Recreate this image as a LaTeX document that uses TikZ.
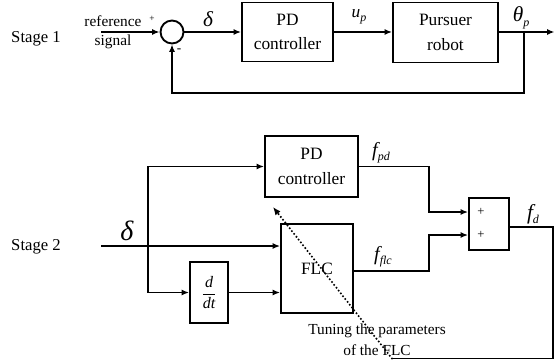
\documentclass[tikz,border=0pt]{standalone}
\usepackage{fontspec}
\setmainfont{Liberation Serif}
\usetikzlibrary{arrows.meta}
\newcommand{\lowsub}[1]{\raisebox{-0.45ex}{\fontsize{9}{10}\selectfont\itshape #1}}
\begin{document}
\begin{tikzpicture}[x=0.75pt,y=-0.75pt,
  blk/.style={draw,line width=1.4pt,inner sep=0pt,align=center,font=\fontsize{13}{18.5}\selectfont},
  wire/.style={line width=1.4pt},
  arr/.style={wire,-{Latex[length=5.5pt,width=4.5pt]}},
  thinwire/.style={line width=0.9pt},
  dots/.style={line width=1.7pt,line cap=round,dash pattern=on 0pt off 2.7pt,-{Latex[length=6pt,width=5pt]}},
  lbl/.style={font=\fontsize{12.5}{14}\selectfont,inner sep=0pt},
  small/.style={font=\fontsize{11.5}{15.75}\selectfont,inner sep=0pt,align=center},
  tiny/.style={font=\fontsize{7}{8}\selectfont,inner sep=0pt},
  plusmark/.style={font=\fontsize{9.5}{10}\selectfont,inner sep=0pt},
  sym/.style={inner sep=0pt,font=\fontsize{15}{16}\selectfont\itshape},
  ]
\useasboundingbox (0,0) rectangle (555,360);
% ---------------- Stage 1
\node[lbl] (st1) at (36,39) {Stage 1};
\node[small] (ref) at (113,21) {reference};
\node[small] (sig) at (113,42) {signal};
\node[tiny] (plus1) at (152,19) {+};
\node[circle,draw,line width=1.4pt,minimum size=17.25pt,inner sep=0pt] (sum1) at (172,32) {};
\node[tiny,font=\fontsize{10}{11}\selectfont] (minus1) at (179,51) {-};
\node[blk,minimum width=68.25pt,minimum height=44.25pt] (pd1) at (287.5,32) {PD\\controller};
\node[blk,minimum width=78.75pt,minimum height=45pt] (rob) at (445.5,32.5) {Pursuer\\robot};
\node[sym,font=\fontsize{16}{17}\selectfont\itshape] (d1) at (208,19) {δ};
\node[sym,font=\fontsize{13}{14}\selectfont\itshape] (up) at (359,17) {u\lowsub{p}};
\node[sym,font=\fontsize{16}{17}\selectfont\itshape] (thp) at (521,18) {θ\lowsub{p}};
\coordinate (in1) at (101,32);
\coordinate (out1) at (554.5,32);
\coordinate (br1) at (524,32);
\coordinate (fb1) at (524,93);
\draw[arr] (in1) -- (sum1.west);
\draw[arr] (sum1.east) -- (pd1.west);
\draw[arr] (pd1.east) -- (pd1.east -| rob.west);
\draw[arr] (rob.east |- out1) -- (out1);
\draw[arr] (br1) -- (fb1) -| (sum1.south);
% ---------------- Stage 2
\node[lbl] (st2) at (36,247) {Stage 2};
\node[sym,font=\fontsize{21}{22}\selectfont\itshape] (d2) at (127,231) {δ};
\node[blk,minimum width=69.75pt,minimum height=45.75pt] (pd2) at (311.5,166.5) {PD\\controller};
\node[blk,minimum width=54pt,minimum height=66.75pt] (flc) at (317,268.5) {FLC};
\node[blk,minimum width=28.5pt,minimum height=45.75pt,font=\fontsize{12}{14}\selectfont] (ddt) at (209,292.5) {$\displaystyle\frac{\textit{d}}{\textit{dt}}$};
\node[draw,line width=1.4pt,minimum width=30pt,minimum height=39pt,inner sep=0pt] (sum2) at (489,224) {};
\node[plusmark] (pa) at (481,212) {+};
\node[plusmark] (pb) at (481,235) {+};
\node[sym] (fpd) at (381,153) {f\lowsub{pd}};
\node[sym] (fflc) at (383,257) {f\lowsub{flc}};
\node[sym,font=\fontsize{16}{17}\selectfont\itshape] (fd) at (533,214) {f\lowsub{d}};
\node[small] (tune) at (377,339.5) {Tuning the parameters\\of the FLC};
\coordinate (in2) at (101,246);
\coordinate (br2) at (148,246);
\coordinate (m1) at (429,212);
\coordinate (m2) at (429,235);
\coordinate (fo) at (353,271);
\coordinate (c1) at (553,227);
\coordinate (c2) at (553,358.5);
\coordinate (ts) at (392,358.5);
\coordinate (tip) at (273,207);
\draw[arr] (in2) -- (in2 -| flc.west);
\draw[arr] (br2) |- (pd2.west);
\draw[arr] (br2) |- (ddt.west);
\draw[arr] (ddt.east) -- (ddt.east -| flc.west);
\draw[arr] (pd2.east) -| (m1) -- (m1 -| sum2.west);
\draw[arr] (fo) -| (m2) -- (m2 -| sum2.west);
\draw[thinwire] (sum2.east |- c1) -- (c1) -- (c2) -- (ts);
\draw[dots] (ts) -- (tip);
\end{tikzpicture}
\end{document}
